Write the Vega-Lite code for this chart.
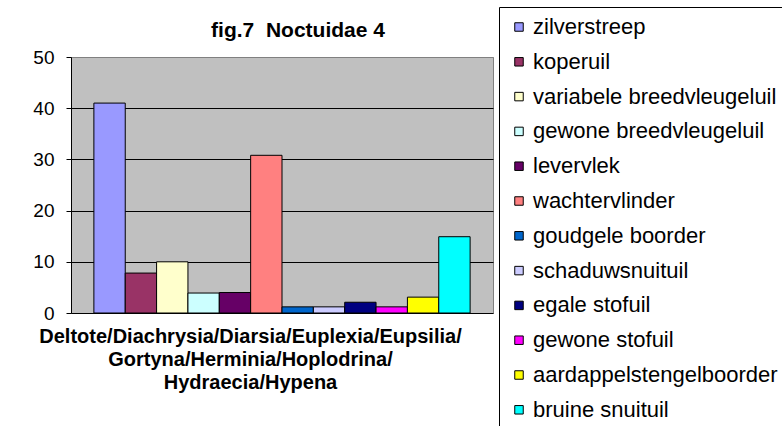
{
  "$schema": "https://vega.github.io/schema/vega-lite/v6.json",
  "autosize": {"type": "none"},
  "width": 422,
  "height": 256,
  "padding": {"left": 71, "top": 57, "right": 289, "bottom": 113},
  "background": "white",
  "title": {
    "text": "fig.7\u00a0 Noctuidae 4",
    "font": "Liberation Sans",
    "fontSize": 21,
    "fontWeight": "bold",
    "color": "black",
    "anchor": "middle",
    "dx": 16,
    "offset": -34
  },
  "data": {
    "values": [
      {"species": "zilverstreep", "count": 41},
      {"species": "koperuil", "count": 7.8},
      {"species": "variabele breedvleugeluil", "count": 10},
      {"species": "gewone breedvleugeluil", "count": 3.9},
      {"species": "levervlek", "count": 4},
      {"species": "wachtervlinder", "count": 30.8},
      {"species": "goudgele boorder", "count": 1.2},
      {"species": "schaduwsnuituil", "count": 1.2},
      {"species": "egale stofuil", "count": 2.1},
      {"species": "gewone stofuil", "count": 1.2},
      {"species": "aardappelstengelboorder", "count": 3.1},
      {"species": "bruine snuituil", "count": 14.9}
    ]
  },
  "mark": {"type": "bar", "stroke": "black", "strokeWidth": 1},
  "encoding": {
    "x": {
      "field": "species",
      "type": "nominal",
      "sort": null,
      "scale": {"paddingInner": 0, "paddingOuter": 0.73},
      "axis": {
        "labels": false,
        "ticks": false,
        "domain": false,
        "grid": false,
        "title": ["Deltote/Diachrysia/Diarsia/Euplexia/Eupsilia/", "Gortyna/Herminia/Hoplodrina/", "Hydraecia/Hypena"],
        "titleFont": "Liberation Sans",
        "titleFontSize": 20,
        "titleFontWeight": "bold",
        "titleColor": "black",
        "titleLineHeight": 23.3,
        "titleX": 179,
        "titleAlign": "center",
        "titlePadding": 13
      }
    },
    "y": {
      "field": "count",
      "type": "quantitative",
      "scale": {"domain": [0, 50], "nice": false},
      "axis": {
        "title": null,
        "values": [0, 10, 20, 30, 40, 50],
        "labelFont": "Liberation Sans",
        "labelFontSize": 19,
        "labelColor": "black",
        "labelPadding": 12,
        "tickSize": 5,
        "tickColor": "black",
        "domainColor": "black",
        "grid": true,
        "gridColor": {"condition": {"test": "datum.value === 50", "value": "#808080"}, "value": "black"},
        "gridWidth": 1,
        "gridOpacity": 1
      }
    },
    "color": {
      "field": "species",
      "type": "nominal",
      "sort": null,
      "scale": {
        "domain": ["zilverstreep", "koperuil", "variabele breedvleugeluil", "gewone breedvleugeluil", "levervlek", "wachtervlinder", "goudgele boorder", "schaduwsnuituil", "egale stofuil", "gewone stofuil", "aardappelstengelboorder", "bruine snuituil"],
        "range": ["#9999FF", "#993366", "#FFFFCC", "#CCFFFF", "#660066", "#FF8080", "#0066CC", "#CCCCFF", "#000080", "#FF00FF", "#FFFF00", "#00FFFF"]
      },
      "legend": {
        "title": null,
        "orient": "none",
        "legendX": 428,
        "legendY": -50,
        "strokeColor": "black",
        "fillColor": "white",
        "padding": 9,
        "symbolOffset": 0,
        "symbolType": "square",
        "symbolSize": 72,
        "symbolStrokeColor": "black",
        "symbolStrokeWidth": 1,
        "symbolOpacity": 1,
        "labelFont": "Liberation Sans",
        "labelFontSize": 22,
        "labelColor": "black",
        "labelOffset": 3,
        "labelLimit": 500,
        "rowPadding": 12.8
      }
    }
  },
  "config": {
    "view": {"fill": "#C0C0C0", "stroke": "#808080", "strokeWidth": 1}
  }
}
